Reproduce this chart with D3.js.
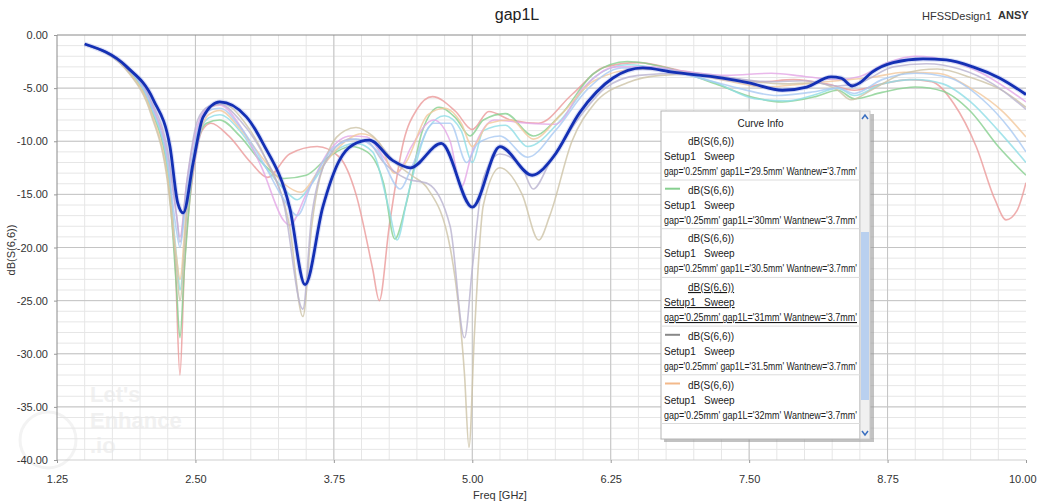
<!DOCTYPE html>
<html>
<head>
<meta charset="utf-8">
<script src="https://cdn.jsdelivr.net/npm/d3@7"></script>
<style>
  body { margin: 0; background: #fff; }
  svg { font-family: "Liberation Sans", Arial, sans-serif; }
  .grid-minor { stroke: #e6e6e6; stroke-width: 1; }
  .grid-major { stroke: #c4c4c4; stroke-width: 1; }
  .axis text { fill: #333; font-size: 11px; }
  .axis line { stroke: #999; }
  .thin { fill: none; stroke-width: 1.6; stroke-opacity: 0.8; }
  .main { fill: none; stroke: #1430b4; stroke-width: 2.8; }
  .lg text { font-size: 10px; fill: #222; }
</style>
</head>
<body>
<svg id="chart" width="1037" height="504"></svg>
<script>
// tick labels
const xTicks = [1.25, 2.5, 3.75, 5, 6.25, 7.5, 8.75, 10];
const yTicks = [0, -5, -10, -15, -20, -25, -30, -35, -40];

// dB(S(6,6)) vs freq [GHz], one array per gap1L sweep value
const sRed = [[1.5,-0.9],[1.9,-3.2],[2.1,-6.5],[2.25,-12],[2.32,-22],[2.36,-32],[2.4,-22],[2.48,-13],[2.56,-9],[2.64,-8.3],[2.8,-9.5],[3.0,-12],[3.15,-13.4],[3.35,-11.2],[3.6,-10.5],[3.8,-11.5],[3.95,-15],[4.1,-22],[4.16,-25],[4.25,-18],[4.38,-10],[4.5,-7],[4.64,-5.8],[4.85,-7.2],[5.0,-8.9],[5.15,-7.2],[5.35,-8],[5.6,-8.3],[5.9,-5.6],[6.2,-3.0],[6.5,-2.6],[6.9,-3.4],[7.3,-4.0],[7.6,-4.4],[7.9,-4.2],[8.2,-4.6],[8.45,-5.2],[8.7,-4.6],[8.95,-4.2],[9.15,-4.4],[9.35,-6.5],[9.55,-10.5],[9.72,-15.5],[9.82,-17.4],[9.92,-16.5],[10,-13.9]];
const sGreen = [[1.5,-0.9],[1.9,-3.4],[2.1,-7],[2.25,-13],[2.33,-24],[2.36,-28.5],[2.4,-22],[2.5,-11],[2.6,-8.3],[2.72,-8.0],[2.9,-9.5],[3.1,-12],[3.3,-13.5],[3.5,-13.2],[3.7,-11.5],[3.9,-10.5],[4.05,-11],[4.2,-14],[4.3,-19.2],[4.4,-16],[4.55,-9],[4.7,-6.8],[4.85,-7.8],[4.98,-9.5],[5.1,-8.0],[5.3,-7.4],[5.55,-9.5],[5.8,-7.5],[6.1,-3.6],[6.4,-2.5],[6.8,-3.2],[7.2,-4.6],[7.55,-5.9],[7.8,-6.3],[8.1,-5.8],[8.3,-5.2],[8.45,-6.0],[8.7,-5.4],[9.0,-4.9],[9.25,-5.3],[9.5,-7.2],[9.75,-10.5],[10,-13.2]];
const sCyan = [[1.5,-0.9],[1.9,-3.3],[2.1,-6.8],[2.25,-12.5],[2.34,-22],[2.36,-24],[2.42,-17],[2.52,-10],[2.62,-7.8],[2.72,-7.5],[2.9,-9],[3.1,-12],[3.3,-14.5],[3.42,-15.5],[3.55,-14],[3.75,-11],[3.95,-10.2],[4.1,-11],[4.25,-16.5],[4.32,-19.3],[4.42,-15],[4.6,-8.8],[4.75,-7.6],[4.9,-9],[5.0,-12],[5.1,-9],[5.3,-8.5],[5.5,-10.5],[5.8,-8],[6.1,-4.0],[6.4,-2.8],[6.8,-3.4],[7.2,-4.5],[7.55,-6.0],[7.85,-6.2],[8.1,-5.6],[8.3,-5.0],[8.45,-5.7],[8.7,-4.6],[9.0,-4.2],[9.25,-4.6],[9.5,-6.3],[9.75,-9],[10,-12]];
const sPurple = [[1.5,-0.9],[1.9,-3.2],[2.1,-6.4],[2.25,-11.5],[2.33,-17],[2.36,-19],[2.42,-14],[2.52,-8.5],[2.62,-6.8],[2.72,-6.6],[2.9,-8.5],[3.1,-12.5],[3.3,-17.5],[3.35,-17.9],[3.5,-15],[3.7,-11],[3.9,-9.5],[4.05,-9.6],[4.2,-11.5],[4.32,-13],[4.45,-10.5],[4.65,-8.0],[4.8,-10],[4.9,-14.3],[5.0,-11],[5.2,-8],[5.5,-8.3],[5.75,-8.4],[6.0,-5],[6.3,-3.0],[6.6,-3.0],[6.9,-3.4],[7.3,-3.8],[7.7,-3.6],[8.0,-3.9],[8.3,-4.2],[8.5,-3.9],[8.75,-2.6],[9.0,-2.0],[9.3,-2.4],[9.6,-3.6],[10,-6.3]];
const sOrange = [[1.5,-0.9],[1.9,-3.5],[2.1,-7.2],[2.25,-13.5],[2.33,-21],[2.36,-23],[2.42,-16],[2.52,-10],[2.62,-7.5],[2.72,-7.1],[2.9,-8.8],[3.1,-11.5],[3.3,-14],[3.45,-14.8],[3.6,-13],[3.8,-10.5],[4.0,-9.3],[4.15,-10],[4.3,-13],[4.4,-12],[4.6,-7.5],[4.75,-6.9],[4.9,-8.3],[5.0,-10.5],[5.15,-8.3],[5.35,-8],[5.55,-9.8],[5.8,-7.5],[6.1,-4.3],[6.5,-3.2],[6.9,-3.5],[7.3,-4.3],[7.65,-4.9],[8.0,-4.6],[8.3,-4.3],[8.6,-4.0],[8.9,-3.5],[9.2,-3.6],[9.5,-5.0],[9.8,-7.3],[10,-9.6]];
const sTan = [[1.5,-0.9],[1.9,-3.6],[2.1,-7.5],[2.25,-14],[2.33,-22],[2.36,-25],[2.42,-17],[2.52,-9.5],[2.65,-6.7],[2.75,-6.5],[2.95,-8.3],[3.15,-12],[3.35,-18],[3.47,-26.5],[3.55,-18],[3.7,-11],[3.85,-9],[3.95,-8.7],[4.1,-9.5],[4.3,-12],[4.45,-13.2],[4.6,-14.5],[4.8,-20],[4.93,-32],[4.97,-38.8],[5.02,-28],[5.1,-16],[5.25,-12.5],[5.45,-15],[5.6,-19.3],[5.7,-17],[5.9,-10],[6.1,-6.5],[6.4,-4.5],[6.7,-3.8],[7.0,-3.7],[7.4,-4.2],[7.8,-4.6],[8.1,-4.5],[8.3,-5.2],[8.42,-6.1],[8.6,-5.2],[8.9,-3.6],[9.2,-3.2],[9.5,-4.0],[9.8,-5.3],[10,-6.8]];
const sLavender = [[1.5,-0.9],[1.9,-3.1],[2.1,-6.2],[2.25,-11],[2.33,-17],[2.36,-19.5],[2.42,-14],[2.52,-8],[2.62,-6.7],[2.72,-6.5],[2.9,-8],[3.1,-11],[3.3,-16],[3.47,-25.8],[3.55,-17],[3.7,-11.5],[3.9,-9.8],[4.05,-10],[4.2,-12],[4.4,-13.5],[4.6,-14],[4.8,-18],[4.93,-28.5],[5.0,-22],[5.1,-13.5],[5.25,-11.2],[5.45,-12.5],[5.55,-14.5],[5.7,-12],[5.95,-8],[6.2,-5],[6.5,-3.8],[6.9,-3.6],[7.3,-4.0],[7.7,-4.4],[8.0,-4.3],[8.3,-4.8],[8.5,-4.5],[8.8,-3.0],[9.1,-2.7],[9.4,-3.2],[9.7,-4.6],[10,-7.0]];
const sLightBlue = [[1.5,-0.9],[1.9,-3.2],[2.1,-6.6],[2.25,-12],[2.33,-18.5],[2.36,-20],[2.42,-15],[2.52,-9],[2.62,-7.1],[2.72,-6.9],[2.9,-8.6],[3.1,-11.8],[3.3,-15.5],[3.42,-17],[3.55,-14],[3.75,-10.6],[3.95,-9.8],[4.15,-11],[4.35,-14.5],[4.45,-12.5],[4.65,-8.3],[4.8,-8.3],[4.95,-12],[5.05,-10.2],[5.25,-9.5],[5.5,-11.5],[5.75,-9],[6.05,-5],[6.35,-3.1],[6.7,-3.2],[7.0,-3.9],[7.4,-5.0],[7.75,-5.7],[8.05,-5.4],[8.3,-5.0],[8.45,-5.5],[8.7,-4.2],[9.0,-3.6],[9.3,-4.0],[9.6,-6.0],[9.85,-8.8],[10,-11]];
const sMain = [[1.5,-0.85],[1.88,-3.0],[2.12,-6.1],[2.27,-10.5],[2.34,-15.8],[2.39,-16.75],[2.48,-12.0],[2.57,-7.7],[2.72,-6.3],[2.96,-7.7],[3.11,-10.2],[3.35,-16.2],[3.49,-23.5],[3.65,-16.2],[3.8,-11.8],[3.92,-10.35],[4.07,-9.9],[4.28,-11.8],[4.44,-12.5],[4.72,-10.2],[5.0,-16.2],[5.25,-10.5],[5.54,-13.2],[5.73,-11.5],[5.97,-7.3],[6.27,-4.05],[6.54,-3.1],[6.81,-3.5],[7.26,-4.05],[7.5,-4.5],[7.8,-5.2],[8.02,-4.9],[8.24,-3.95],[8.33,-4.05],[8.43,-4.8],[8.5,-4.5],[8.61,-3.5],[8.8,-2.6],[9.07,-2.25],[9.28,-2.35],[9.52,-3.0],[9.76,-4.05],[10,-5.6]];

const thinSeries = [sRed, sGreen, sCyan, sPurple, sOrange, sTan, sLavender, sLightBlue];
const thinColors = ['#eb9a9a', '#86cf8f', '#8fdde6', '#e3a6e6', '#f3c89c', '#cdc3a6', '#b9b3cf', '#a9c9f2'];

// legend (Curve Info) entries visible in the scroll box
const legendGap1L = ['29.5', '30', '30.5', '31', '31.5', '32'];
const legendMarker = [null, '#86cf8f', null, null, '#888888', '#f3b98a'];

const svg = d3.select('#chart');
const x = d3.scaleLinear().domain([1.25, 10]).range([57, 1026]);
const y = d3.scaleLinear().domain([0, -40]).range([35, 460]);

// watermark (faint)
const wm = svg.append('g').attr('fill', '#f1f1f1').attr('font-weight', 'bold').attr('font-size', 22);
svg.append('circle').attr('cx', 48).attr('cy', 440).attr('r', 28)
  .attr('fill', 'none').attr('stroke', '#f3f3f3').attr('stroke-width', 3);
wm.append('text').attr('x', 90).attr('y', 402).text("Let's");
wm.append('text').attr('x', 90).attr('y', 428).text('Enhance');
wm.append('text').attr('x', 90).attr('y', 453).text('.io');

// grid
const grid = svg.append('g');
grid.selectAll('.vmin').data(d3.range(1.5, 10, 0.25))
  .join('line').attr('class', 'grid-minor')
  .attr('x1', d => x(d)).attr('x2', d => x(d)).attr('y1', y(0)).attr('y2', y(-40));
grid.selectAll('.hmin').data(d3.range(-1, -40, -1))
  .join('line').attr('class', 'grid-minor')
  .attr('x1', x(1.25)).attr('x2', x(10)).attr('y1', d => y(d)).attr('y2', d => y(d));
grid.selectAll('.vmaj').data(xTicks.slice(1, -1))
  .join('line').attr('class', 'grid-major')
  .attr('x1', d => x(d)).attr('x2', d => x(d)).attr('y1', y(0)).attr('y2', y(-40));
grid.selectAll('.hmaj').data(yTicks.slice(1, -1))
  .join('line').attr('class', 'grid-major')
  .attr('x1', x(1.25)).attr('x2', x(10)).attr('y1', d => y(d)).attr('y2', d => y(d));
grid.append('line').attr('x1', x(1.25)).attr('x2', x(10)).attr('y1', y(0)).attr('y2', y(0))
  .attr('stroke', '#8a8a8a');
grid.append('line').attr('x1', x(1.25)).attr('x2', x(10)).attr('y1', y(-40)).attr('y2', y(-40))
  .attr('stroke', '#cfcfcf');
grid.append('line').attr('x1', x(1.25)).attr('x2', x(1.25)).attr('y1', y(0)).attr('y2', y(-40))
  .attr('stroke', '#8a8a8a');

// axes
svg.append('g').attr('class', 'axis')
  .attr('transform', `translate(${x(1.25)},0)`)
  .call(d3.axisLeft(y).tickValues(yTicks).tickFormat(d => d.toFixed(2)).tickSize(3).tickPadding(6))
  .call(g => g.select('.domain').remove());
svg.append('g').attr('class', 'axis')
  .attr('transform', `translate(0,${y(-40)})`)
  .call(d3.axisBottom(x).tickValues(xTicks).tickFormat(d => d.toFixed(2)).tickSize(3).tickPadding(12))
  .call(g => g.select('.domain').remove())
  .call(g => g.selectAll('.tick:last-of-type text').attr('text-anchor', 'end').attr('dx', 10));

// curves
svg.append('clipPath').attr('id', 'clip').append('rect')
  .attr('x', x(1.25)).attr('y', y(0)).attr('width', x(10) - x(1.25)).attr('height', y(-40) - y(0));
const line = d3.line().x(d => x(d[0])).y(d => y(d[1])).curve(d3.curveMonotoneX);
const plot = svg.append('g').attr('clip-path', 'url(#clip)');
plot.selectAll('.thin').data(thinSeries)
  .join('path').attr('class', 'thin')
  .attr('stroke', (d, i) => thinColors[i])
  .attr('d', line);
plot.append('path').datum(sMain)
  .attr('fill', 'none').attr('stroke', '#9aa6e8').attr('stroke-width', 5).attr('stroke-opacity', 0.35)
  .attr('d', line);
plot.append('path').datum(sMain).attr('class', 'main').attr('d', line);

// titles
svg.append('text').attr('x', 517).attr('y', 20).attr('text-anchor', 'middle')
  .attr('font-size', 16).attr('fill', '#222').text('gap1L');
svg.append('text').attr('x', 922).attr('y', 20)
  .attr('font-size', 11).attr('fill', '#333').text('HFSSDesign1');
svg.append('text').attr('x', 998).attr('y', 19)
  .attr('font-size', 11).attr('font-weight', 'bold').attr('fill', '#333').text('ANSY');
svg.append('text').attr('transform', 'translate(15,250) rotate(-90)').attr('text-anchor', 'middle')
  .attr('font-size', 11).attr('fill', '#333').text('dB(S(6,6))');
svg.append('text').attr('x', 500).attr('y', 499).attr('text-anchor', 'middle')
  .attr('font-size', 11).attr('fill', '#333').text('Freq [GHz]');

// Curve Info legend
const lx = 661, ly = 111, lw = 199, lh = 328;
const lg = svg.append('g').attr('class', 'lg');
lg.append('rect').attr('x', lx + 3).attr('y', ly + 3).attr('width', lw + 11).attr('height', lh)
  .attr('fill', '#9a9a9a').attr('opacity', 0.6);
lg.append('rect').attr('x', lx).attr('y', ly).attr('width', lw).attr('height', lh)
  .attr('fill', '#fff').attr('stroke', '#b5b5b5');
// scrollbar
lg.append('rect').attr('x', lx + lw).attr('y', ly).attr('width', 10).attr('height', lh)
  .attr('fill', '#f0f0f0').attr('stroke', '#c8c8c8');
lg.append('rect').attr('x', lx + lw + 1).attr('y', 232).attr('width', 8).attr('height', 168)
  .attr('fill', '#b9d0ef');
lg.append('path').attr('d', `M${lx + lw + 2},${ly + 8} l3,-4 l3,4`).attr('fill', 'none').attr('stroke', '#3a6fc0').attr('stroke-width', 1.5);
lg.append('path').attr('d', `M${lx + lw + 2},${ly + lh - 8} l3,4 l3,-4`).attr('fill', 'none').attr('stroke', '#3a6fc0').attr('stroke-width', 1.5);
lg.append('text').attr('x', lx + lw / 2).attr('y', 127).attr('text-anchor', 'middle')
  .attr('font-size', 11).text('Curve Info');
lg.append('line').attr('x1', lx).attr('x2', lx + lw).attr('y1', 132).attr('y2', 132).attr('stroke', '#e4e4e4');

legendGap1L.forEach((g, i) => {
  const top = 132 + i * 48.7;
  const e = lg.append('g').attr('text-decoration', i === 3 ? 'underline' : null);
  if (legendMarker[i]) {
    e.append('line').attr('x1', lx + 4).attr('x2', lx + 19).attr('y1', top + 8).attr('y2', top + 8)
      .attr('stroke', legendMarker[i]).attr('stroke-width', 2);
  }
  e.append('text').attr('x', lx + 27).attr('y', top + 13).text('dB(S(6,6))');
  e.append('text').attr('x', lx + 3).attr('y', top + 28).attr('xml:space', 'preserve').text('Setup1   Sweep');
  e.append('text').attr('x', lx + 3).attr('y', top + 43)
    .attr('textLength', 193).attr('lengthAdjust', 'spacingAndGlyphs')
    .text(`gap='0.25mm' gap1L='${g}mm' Wantnew='3.7mm'`);
  lg.append('line').attr('x1', lx).attr('x2', lx + lw).attr('y1', top + 48).attr('y2', top + 48)
    .attr('stroke', '#dcdcdc');
});
</script>
</body>
</html>
